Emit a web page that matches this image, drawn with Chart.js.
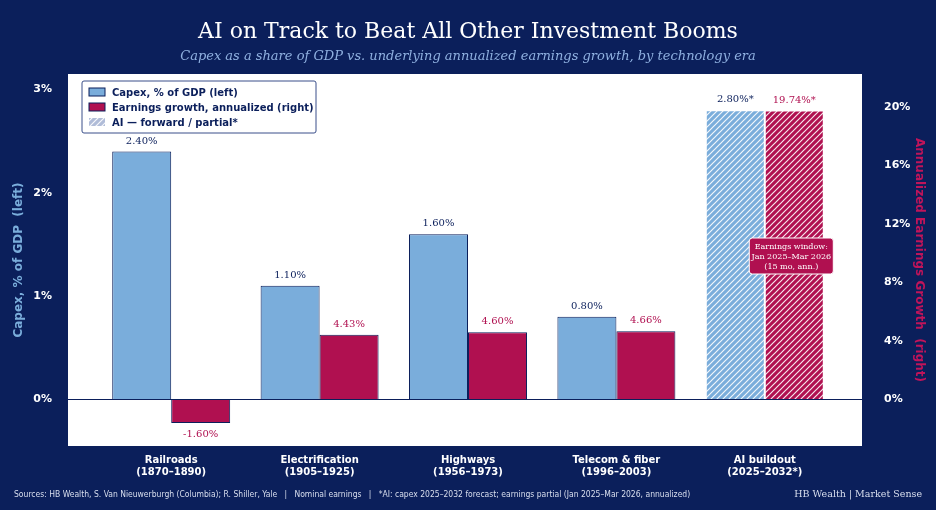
<!DOCTYPE html>
<html lang="en">
<head>
<meta charset="UTF-8" />
<title>AI investment booms</title>
<script src="https://cdn.jsdelivr.net/npm/chart.js"></script>
<style>
  body { margin: 0; background: #0b1f5b; }
  #wrap { width: 936px; height: 510px; position: relative; }
</style>
</head>
<body>
<div id="wrap"><canvas id="chart" width="936" height="510"></canvas></div>
<script>
const eras = [["Railroads", "(1870–1890)"], ["Electrification", "(1905–1925)"], ["Highways", "(1956–1973)"], ["Telecom & fiber", "(1996–2003)"], ["AI buildout", "(2025–2032*)"]];
const capex = [2.40, 1.10, 1.60, 0.80, 2.80];
const earnings = [-1.60, 4.43, 4.60, 4.66, 19.74];
const leftTicks = [0, 1, 2, 3];
const rightTicks = [0, 4, 8, 12, 16, 20];

const NAVY = "#0b1f5b", BLUE = "#7aaddb", RED = "#b01050";

function hatch(base) {
  const c = document.createElement("canvas");
  c.width = 6; c.height = 6;
  const g = c.getContext("2d");
  g.fillStyle = base; g.fillRect(0, 0, 6, 6);
  g.strokeStyle = "rgba(255,255,255,0.9)"; g.lineWidth = 1.2;
  g.beginPath();
  g.moveTo(0, 6); g.lineTo(6, 0);
  g.moveTo(-3, 3); g.lineTo(3, -3);
  g.moveTo(3, 9); g.lineTo(9, 3);
  g.stroke();
  return g.createPattern(c, "repeat");
}
const ctx = document.getElementById("chart").getContext("2d");
const blueHatch = hatch(BLUE), redHatch = hatch(RED);
const last = capex.length - 1;
const PLOT_L = 68, PLOT_R = 862;

const deco = {
  id: "deco",
  beforeDraw(chart) {
    const g = chart.ctx, a = chart.chartArea;
    g.save();
    g.fillStyle = NAVY; g.fillRect(0, 0, 936, 510);
    g.fillStyle = "#fff"; g.fillRect(PLOT_L, a.top, PLOT_R - PLOT_L, a.bottom - a.top);
    g.restore();
  },
  afterDatasetsDraw(chart) {
    const g = chart.ctx, a = chart.chartArea;
    const y0 = chart.scales.y.getPixelForValue(0);
    g.save();
    g.strokeStyle = NAVY; g.lineWidth = 1.2;
    g.beginPath(); g.moveTo(PLOT_L, y0); g.lineTo(PLOT_R, y0); g.stroke();

    // value labels
    g.font = "10px 'DejaVu Serif'"; g.textAlign = "center";
    chart.getDatasetMeta(0).data.forEach((b, i) => {
      g.fillStyle = NAVY;
      g.fillText(capex[i].toFixed(2) + "%" + (i === last ? "*" : ""), b.x, b.y - 8);
    });
    chart.getDatasetMeta(1).data.forEach((b, i) => {
      g.fillStyle = RED;
      const v = earnings[i];
      g.fillText(v.toFixed(2) + "%" + (i === last ? "*" : ""), b.x, v < 0 ? b.y + 14 : b.y - 8);
    });

    // annotation
    const ab = chart.getDatasetMeta(1).data[last];
    const bx = ab.x - 3, by = 238;
    g.fillStyle = RED; g.strokeStyle = "#fff"; g.lineWidth = 1;
    g.beginPath(); g.roundRect(bx - 42, by, 84, 36, 3); g.fill(); g.stroke();
    g.fillStyle = "#fff"; g.font = "8px 'DejaVu Serif'";
    g.fillText("Earnings window:", bx, by + 11);
    g.fillText("Jan 2025–Mar 2026", bx, by + 21);
    g.fillText("(15 mo, ann.)", bx, by + 31);

    // legend
    g.fillStyle = "#fff"; g.strokeStyle = "#3a4f8a"; g.lineWidth = 1;
    g.beginPath(); g.roundRect(82, 81, 234, 52, 2); g.fill(); g.stroke();
    const items = [[BLUE, "Capex, % of GDP (left)"], [RED, "Earnings growth, annualized (right)"], [hatch("#b0bcd8"), "AI — forward / partial*"]];
    g.textAlign = "left"; g.font = "bold 10px 'DejaVu Sans'";
    items.forEach((it, k) => {
      const yy = 88 + k * 15;
      g.fillStyle = it[0]; g.fillRect(89, yy, 16, 8);
      if (k < 2) { g.strokeStyle = NAVY; g.strokeRect(89, yy, 16, 8); }
      g.fillStyle = NAVY; g.fillText(it[1], 112, yy + 8);
    });

    // titles
    g.textAlign = "center"; g.fillStyle = "#fff";
    g.font = "22px 'DejaVu Serif'";
    g.fillText("AI on Track to Beat All Other Investment Booms", 468, 38);
    g.fillStyle = "#8fb0e0"; g.font = "italic 13px 'DejaVu Serif'";
    g.fillText("Capex as a share of GDP vs. underlying annualized earnings growth, by technology era", 468, 60);

    g.save();
    g.translate(22, 260); g.rotate(-Math.PI / 2);
    g.fillStyle = "#7aaddb"; g.font = "bold 12px 'DejaVu Sans'";
    g.fillText("Capex, % of GDP  (left)", 0, 0);
    g.restore();
    g.save();
    g.translate(916, 260); g.rotate(Math.PI / 2);
    g.fillStyle = "#c0145a"; g.font = "bold 12px 'DejaVu Sans'";
    g.fillText("Annualized Earnings Growth  (right)", 0, 0);
    g.restore();

    // footer
    g.textAlign = "left"; g.fillStyle = "#d8deee"; g.font = "8.5px 'DejaVu Sans Condensed', 'DejaVu Sans'";
    g.fillText("Sources: HB Wealth, S. Van Nieuwerburgh (Columbia); R. Shiller, Yale   |   Nominal earnings   |   *AI: capex 2025–2032 forecast; earnings partial (Jan 2025–Mar 2026, annualized)", 14, 497);
    g.textAlign = "right"; g.font = "9.5px 'DejaVu Serif'";
    g.fillText("HB Wealth | Market Sense", 922, 497);
    g.restore();
  }
};

new Chart(ctx, {
  type: "bar",
  data: {
    labels: eras,
    datasets: [
      {
        data: capex, yAxisID: "y",
        backgroundColor: capex.map((v, i) => i === last ? blueHatch : BLUE),
        borderColor: capex.map((v, i) => i === last ? "#fff" : NAVY),
        borderWidth: 1
      },
      {
        data: earnings, yAxisID: "y1",
        backgroundColor: earnings.map((v, i) => i === last ? redHatch : RED),
        borderColor: earnings.map((v, i) => i === last ? "#fff" : NAVY),
        borderWidth: 1
      }
    ]
  },
  options: {
    responsive: false, animation: false,
    layout: { padding: { top: 74, bottom: 0, left: 0, right: 0 } },
    plugins: { legend: { display: false }, tooltip: { enabled: false } },
    datasets: { bar: { categoryPercentage: 0.795, barPercentage: 1 } },
    scales: {
      x: {
        grid: { display: false }, border: { display: false },
        ticks: { color: "#fff", font: { family: "DejaVu Sans", weight: "bold", size: 10 }, padding: 0 },
        afterFit(s) { s.height = 64; }
      },
      y: {
        position: "left", min: -0.45, max: 3.15,
        grid: { display: false }, border: { display: false },
        afterBuildTicks(s) { s.ticks = leftTicks.map(v => ({ value: v })); },
        ticks: { color: "#fff", font: { family: "DejaVu Sans", weight: "bold", size: 11 }, callback: v => v + "%", padding: 37 },
        afterFit(s) { s.width = 97; }
      },
      y1: {
        position: "right", min: -0.45 * 7.06, max: 3.15 * 7.06,
        grid: { display: false }, border: { display: false },
        afterBuildTicks(s) { s.ticks = rightTicks.map(v => ({ value: v })); },
        ticks: { color: "#fff", font: { family: "DejaVu Sans", weight: "bold", size: 11 }, callback: v => v + "%", padding: 37 },
        afterFit(s) { s.width = 97; }
      }
    }
  },
  plugins: [deco]
});
</script>
</body>
</html>
